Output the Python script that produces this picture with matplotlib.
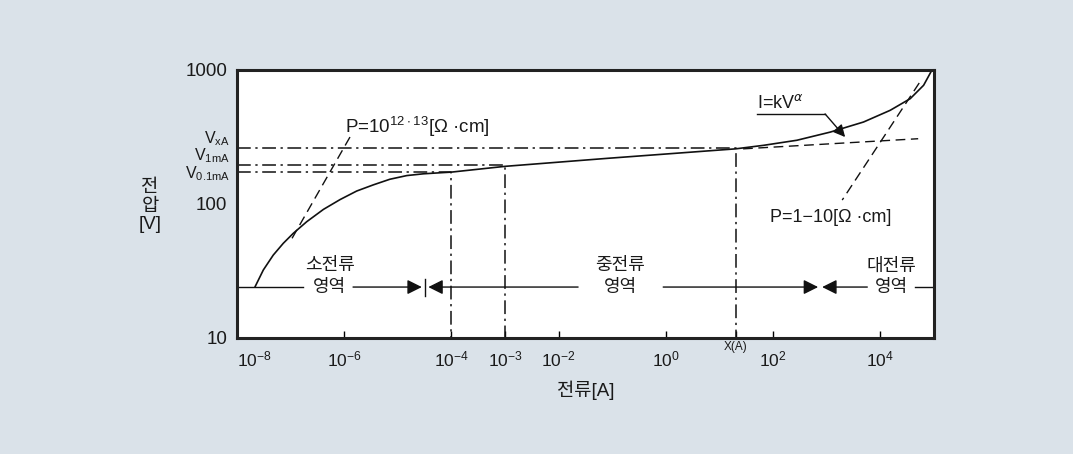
import numpy as np
import matplotlib
matplotlib.use("Agg")
import matplotlib.pyplot as plt
import matplotlib.transforms as mtransforms

plt.rcParams['font.family'] = ['Liberation Sans', 'Noto Sans CJK KR', 'DejaVu Sans']
plt.rcParams['mathtext.fontset'] = 'custom'
plt.rcParams['mathtext.rm'] = 'Liberation Sans'
plt.rcParams['mathtext.it'] = 'DejaVu Sans:italic'
plt.rcParams['axes.unicode_minus'] = True

BG = '#dae2e9'
TXT = '#1a1a1a'

# V-I curve (current [A], voltage [V])
curve_i = [2.17e-8, 3.1e-8, 4.75e-8, 7.3e-8, 1.12e-7, 2.0e-7, 4.1e-7, 8.4e-7, 1.71e-6,
           3.5e-6, 7.1e-6, 1.47e-5, 3.0e-5, 6.1e-5, 1e-4, 1e-3, 0.079, 20, 66, 277,
           1160, 4840, 1.52e4, 3.6e4, 6.4e4, 9.1e4]
curve_v = [24.1, 32.2, 41.6, 50.9, 60.4, 73.8, 91.2, 108, 125,
           139, 153, 163, 168, 171, 173, 191, 219, 258, 274, 299,
           344, 409, 500, 611, 769, 995]

# reference points
i_01ma, i_1ma, i_x = 1e-4, 1e-3, 20
v_01ma, v_1ma, v_xa = 172, 194, 260

# extrapolated / resistivity lines
tangent_i = [27.5, 5.07e4]
tangent_v = [258, 307]
p_low_i = [1.28e-6, 9.7e-8]
p_low_v = [316, 52]
p_high_i = [5.3e4, 1940]
p_high_v = [800, 107]

x_ticks = [1e-8, 1e-6, 1e-4, 1e-3, 1e-2, 1, 20, 1e2, 1e4]
x_labels = [r'$\mathregular{10^{-8}}$', r'$\mathregular{10^{-6}}$', r'$\mathregular{10^{-4}}$',
            r'$\mathregular{10^{-3}}$', r'$\mathregular{10^{-2}}$', r'$\mathregular{10^{0}}$',
            'X(A)', r'$\mathregular{10^{2}}$', r'$\mathregular{10^{4}}$']
y_ticks = [10, 100, 1000]
y_labels = ['10', '100', '1000']
v_names = [r'V$_{\mathregular{xA}}$', r'V$_{\mathregular{1mA}}$', r'V$_{\mathregular{0.1mA}}$']
v_name_pos = [305, 228, 169]

region_v = 24

fig = plt.figure(figsize=(10.73, 4.54), dpi=100, facecolor=BG)
ax = fig.add_axes([237 / 1073, 1 - 338 / 454, 697 / 1073, 268 / 454])
ax.set_xscale('log')
ax.set_yscale('log')
ax.set_xlim(1e-8, 1e5)
ax.set_ylim(10, 1000)
for s in ax.spines.values():
    s.set_linewidth(2.2)
    s.set_color('#222222')

k = '#111111'
dd = (0, (9, 3, 1.5, 3))
ax.plot(curve_i, curve_v, color=k, lw=1.2)

# dash-dot reference lines
ax.plot([1e-8, i_01ma, i_01ma], [v_01ma, v_01ma, 10], color=k, lw=1.1, ls=dd)
ax.plot([1e-8, i_1ma, i_1ma], [v_1ma, v_1ma, 10], color=k, lw=1.1, ls=dd)
ax.plot([1e-8, i_x, i_x], [v_xa, v_xa, 10], color=k, lw=1.1, ls=dd)

# dashed lines
ax.plot(tangent_i, tangent_v, color=k, lw=1.0, ls=(0, (7, 4)))
ax.plot(p_low_i, p_low_v, color=k, lw=1.0, ls=(0, (7, 4)))
ax.plot(p_high_i, p_high_v, color=k, lw=1.0, ls=(0, (7, 4)))

ax.text(1.05e-6, 380, r'P=10$^{\mathregular{12\cdot13}}$[Ω ·cm]', fontsize=13.5, va='center',
        ha='left', color=TXT)
ax.text(1.2e3, 79, 'P=1−10[Ω ·cm]', fontsize=13, va='center', ha='center', color=TXT)

# I=kV^a pointer
ax.text(50, 490, r'I=kV$^{\alpha}$', fontsize=13, va='bottom', ha='left', color=TXT)
ax.plot([50, 930], [470, 470], color=k, lw=1.0)
ax.annotate('', xy=(2200, 316), xytext=(930, 470),
            arrowprops=dict(arrowstyle='-|>', color=k, lw=1.0, mutation_scale=18,
                            shrinkA=0, shrinkB=0))

# region arrows
aprops = dict(arrowstyle='-|>', color=k, lw=1.0, mutation_scale=22, shrinkA=0, shrinkB=0)
ax.plot([1e-8, 1.7e-7], [region_v, region_v], color=k, lw=1.0)
ax.annotate('', xy=(2.8e-5, region_v), xytext=(1.46e-6, region_v), arrowprops=aprops)
ax.plot([3.2e-5, 3.2e-5], [20.5, 27.5], color=k, lw=1.0)
ax.annotate('', xy=(3.7e-5, region_v), xytext=(0.023, region_v), arrowprops=aprops)
ax.annotate('', xy=(690, region_v), xytext=(0.89, region_v), arrowprops=aprops)
ax.annotate('', xy=(820, region_v), xytext=(5700, region_v), arrowprops=aprops)
ax.plot([4.5e4, 1e5], [region_v, region_v], color=k, lw=1.0)

for xc, top in [(5.4e-7, '소전류'), (0.14, '중전류'), (1.6e4, '대전류')]:
    ax.text(xc, 34.5, top, fontsize=13, ha='center', va='center', color=TXT)
    ax.text(xc, region_v, '영역', fontsize=13, ha='center', va='center', color=TXT)

# ticks
ax.xaxis.set_minor_locator(matplotlib.ticker.NullLocator())
ax.yaxis.set_minor_locator(matplotlib.ticker.NullLocator())
ax.set_xticks(x_ticks)
ax.set_xticklabels(x_labels)
ax.tick_params(axis='x', direction='in', length=5, width=1.0, pad=8, labelsize=12.5,
               labelcolor=TXT)
for lab in ax.get_xticklabels():
    if lab.get_text() == 'X(A)':
        lab.set_fontsize(8.5)
        lab.set_y(0.03)
ax.get_xticklabels()[0].set_ha('left')
ax.set_yticks(y_ticks)
ax.set_yticklabels(y_labels)
ax.tick_params(axis='y', length=0, pad=7, labelsize=13.5, labelcolor=TXT)

# V labels beside the left axis
trans = mtransforms.blended_transform_factory(ax.transAxes, ax.transData)
for name, yv in zip(v_names, v_name_pos):
    ax.text(-7 / 697, yv, name, transform=trans, ha='right', va='center', fontsize=11.5,
            color=TXT)

ax.set_xlabel('전류[A]', fontsize=13.5, labelpad=8, color=TXT)
fig.text(150 / 1073, 1 - 206 / 454, '전\n압\n[V]', fontsize=13.5, ha='center', va='center',
         linespacing=1.15, color=TXT)

fig.savefig('out.png', dpi=100, facecolor=BG)
